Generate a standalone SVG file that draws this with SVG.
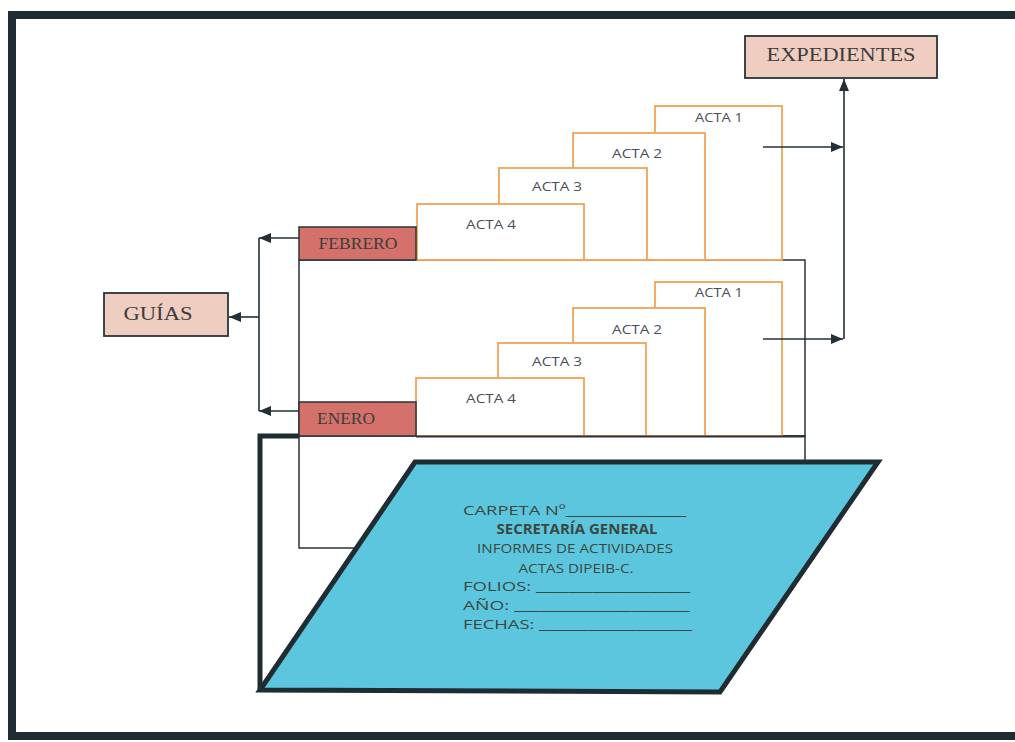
<svg xmlns="http://www.w3.org/2000/svg" width="1015" height="742" viewBox="0 0 1015 742">
<defs>
<marker id="ah" markerUnits="userSpaceOnUse" markerWidth="12" markerHeight="10" refX="12" refY="5" orient="auto">
<path d="M0,0 L12,5 L0,10 Z" fill="#243035"/>
</marker>
<style>
.frame{fill:none;stroke:#1f2d33;stroke-width:8}
.folder{fill:#fff;stroke:#2a3338;stroke-width:1.5}
.tab{fill:#fff;stroke:#f0a555;stroke-width:1.8}
.acta{font-family:"Open Sans",Lato,sans-serif;font-size:13px;fill:#4a5058;text-anchor:middle}
.month{fill:#d4716b;stroke:#2a3338;stroke-width:1.5}
.label{fill:#efcdc1;stroke:#2a3338;stroke-width:1.8}
.serif{font-family:"Liberation Serif","DejaVu Serif",serif;fill:#3c3c3c;text-anchor:middle}
.conn{fill:none;stroke:#243035;stroke-width:1.6}
.ftxt{font-family:"Open Sans",Lato,sans-serif;font-size:13.5px;fill:#3b4840}
</style>
</defs>
<rect x="0" y="0" width="1015" height="742" fill="#fff"/>
<rect class="frame" x="12" y="15" width="1012" height="721"/>

<g id="back-panel">
<path d="M260,690 L260,436 L300,436" fill="none" stroke="#1f2d33" stroke-width="5"/>
</g>

<g id="febrero-folder">
<rect class="folder" x="299" y="260" width="506" height="176"/>
<rect class="tab" x="655" y="106" width="127" height="154"/>
<rect class="tab" x="573" y="133" width="132" height="127"/>
<rect class="tab" x="499" y="168" width="148" height="92"/>
<rect class="tab" x="417" y="204" width="167" height="56"/>
<text class="acta" x="719" y="122" textLength="48" lengthAdjust="spacingAndGlyphs">ACTA 1</text>
<text class="acta" x="637" y="158" textLength="50" lengthAdjust="spacingAndGlyphs">ACTA 2</text>
<text class="acta" x="557" y="191" textLength="50" lengthAdjust="spacingAndGlyphs">ACTA 3</text>
<text class="acta" x="491" y="229" textLength="50" lengthAdjust="spacingAndGlyphs">ACTA 4</text>
</g>
<g id="febrero">
<rect class="month" x="299" y="227" width="117" height="33"/>
<text class="serif" x="358" y="249" font-size="16" textLength="79" lengthAdjust="spacingAndGlyphs">FEBRERO</text>
</g>

<g id="enero-folder">
<rect class="folder" x="299" y="436" width="506" height="112"/>
<rect class="tab" x="655" y="282" width="127" height="154"/>
<rect class="tab" x="573" y="308" width="132" height="128"/>
<rect class="tab" x="498" y="343" width="148" height="93"/>
<rect class="tab" x="416" y="378" width="168" height="58"/>
<text class="acta" x="719" y="297" textLength="48" lengthAdjust="spacingAndGlyphs">ACTA 1</text>
<text class="acta" x="637" y="334" textLength="50" lengthAdjust="spacingAndGlyphs">ACTA 2</text>
<text class="acta" x="557" y="366" textLength="50" lengthAdjust="spacingAndGlyphs">ACTA 3</text>
<text class="acta" x="491" y="403" textLength="50" lengthAdjust="spacingAndGlyphs">ACTA 4</text>
<line x1="416" y1="436.5" x2="805" y2="436.5" stroke="#2a3338" stroke-width="1.8"/>
</g>
<g id="enero">
<rect class="month" x="299" y="402" width="117" height="34"/>
<text class="serif" x="346" y="424" font-size="16" textLength="58" lengthAdjust="spacingAndGlyphs">ENERO</text>
</g>

<g id="carpeta">
<polygon points="415,462 878,462 720,692 260,690" fill="#5cc6df" stroke="#1f2d33" stroke-width="5" stroke-linejoin="miter"/>
<text class="ftxt" x="463" y="515" textLength="223" lengthAdjust="spacingAndGlyphs">CARPETA Nº_______________</text>
<text class="ftxt" x="577" y="534" text-anchor="middle" font-weight="bold" fill="#2e3a34" textLength="161" lengthAdjust="spacingAndGlyphs">SECRETARÍA GENERAL</text>
<text class="ftxt" x="575" y="553" text-anchor="middle" textLength="196" lengthAdjust="spacingAndGlyphs">INFORMES DE ACTIVIDADES</text>
<text class="ftxt" x="576" y="573" text-anchor="middle" textLength="115" lengthAdjust="spacingAndGlyphs">ACTAS DIPEIB-C.</text>
<text class="ftxt" x="463" y="591" textLength="227" lengthAdjust="spacingAndGlyphs">FOLIOS: ___________________</text>
<text class="ftxt" x="463" y="610" textLength="227" lengthAdjust="spacingAndGlyphs">AÑO: _____________________</text>
<text class="ftxt" x="463" y="629" textLength="229" lengthAdjust="spacingAndGlyphs">FECHAS: ___________________</text>
</g>

<g id="expedientes">
<rect class="label" x="745" y="36" width="192" height="42"/>
<text class="serif" x="841" y="61" font-size="18" textLength="149" lengthAdjust="spacingAndGlyphs">EXPEDIENTES</text>
</g>

<g id="guias">
<rect class="label" x="104" y="293" width="124" height="43"/>
<text class="serif" x="158" y="320" font-size="19" textLength="69" lengthAdjust="spacingAndGlyphs">GUÍAS</text>
</g>

<g id="connectors">
<line class="conn" x1="299" y1="238" x2="259" y2="238" marker-end="url(#ah)"/>
<line class="conn" x1="299" y1="411" x2="259" y2="411" marker-end="url(#ah)"/>
<line class="conn" x1="259" y1="238" x2="259" y2="411"/>
<line class="conn" x1="259" y1="317" x2="229" y2="317" marker-end="url(#ah)"/>
<line class="conn" x1="763" y1="147" x2="843" y2="147" marker-end="url(#ah)"/>
<line class="conn" x1="763" y1="339" x2="843" y2="339" marker-end="url(#ah)"/>
<line class="conn" x1="844" y1="339" x2="844" y2="79" marker-end="url(#ah)"/>
</g>
</svg>
